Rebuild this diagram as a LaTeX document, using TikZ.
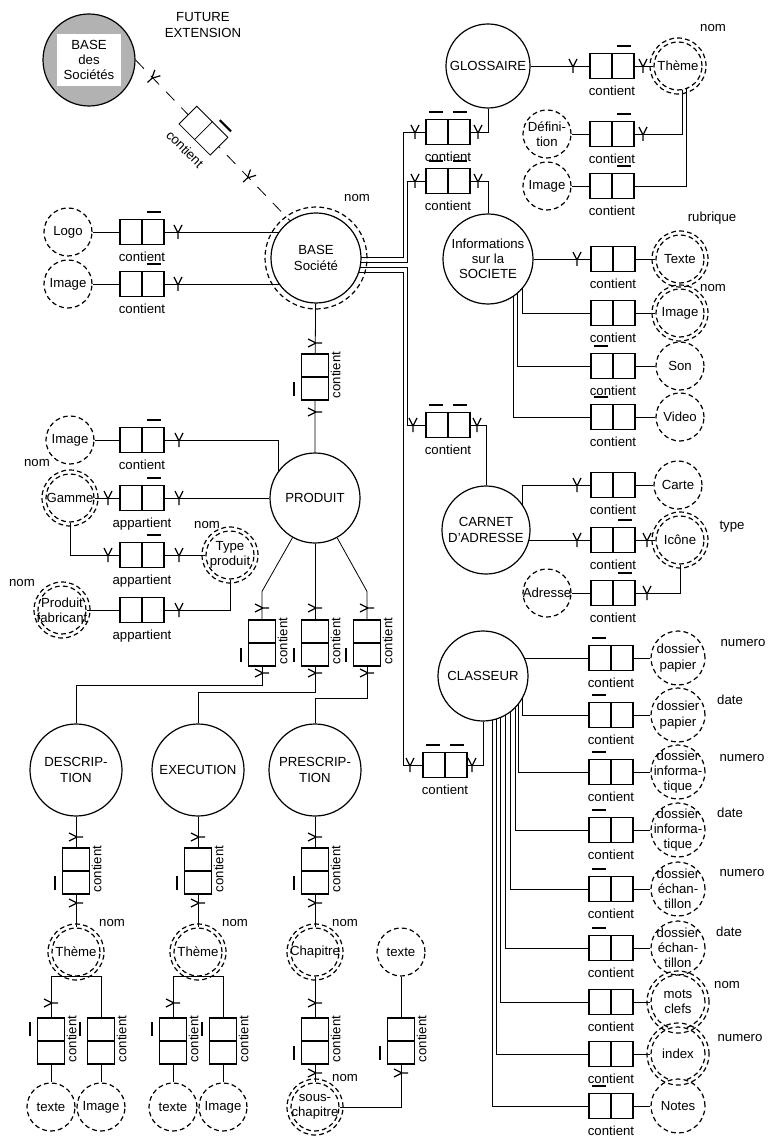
\documentclass[tikz,border=0pt]{standalone}
\usepackage{fontspec}
\setmainfont{Liberation Sans}
\pgfdeclarelayer{bg}
\pgfsetlayers{bg,main}

% bars above the relation boxes
\newcommand{\barR}[1]{\draw[cardbar] ([xshift=2.5pt,yshift=3.5pt]#1.north) -- ++(7pt,0pt);}
\newcommand{\barL}[1]{\draw[cardbar] ([xshift=-9.5pt,yshift=3.5pt]#1.north) -- ++(7pt,0pt);}
\newcommand{\barB}[1]{\barL{#1}\barR{#1}}
\newcommand{\barD}[1]{\draw[cardbar] ([xshift=-3.5pt,yshift=-2.5pt]#1.west) -- ++(0pt,-7pt);}
\newcommand{\barU}[1]{\draw[cardbar] ([xshift=-3.5pt,yshift=2.5pt]#1.west) -- ++(0pt,7pt);}

\begin{document}
\begin{tikzpicture}[
    x=0.5pt, y=-0.5pt,
    font=\fontsize{6.6}{7.6}\selectfont,
    line width=0.6pt,
    ent/.style = {circle, draw, fill=white, minimum size=45pt, inner sep=-6pt, align=center},
    att/.style = {circle, draw, dash pattern=on 2.4pt off 1.6pt, fill=white, minimum size=24pt, inner sep=-6pt, align=center},
    bigatt/.style = {att, minimum size=27pt},
    ring/.style = {dash pattern=on 2.4pt off 1.6pt},
    lbl/.style = {inner sep=0.5pt},
    rbox/.style = {rectangle, draw, fill=white, minimum width=22pt, minimum height=12.5pt, inner sep=0pt},
    relbox/.style = {rbox,
        path picture={\draw (path picture bounding box.north) -- (path picture bounding box.south);},
        label={[lbl, label distance=2.5pt]below:#1}},
    relbox/.default = contient,
    vrelbox/.style = {rectangle, draw, fill=white, minimum width=13.5pt, minimum height=23pt, inner sep=0pt,
        path picture={\draw (path picture bounding box.west) -- (path picture bounding box.east);},
        label={[lbl, rotate=90, anchor=north, label distance=1pt]east:contient}},
    cardbar/.style = {line width=1.1pt},
    fork/.pic = {\draw[solid, line width=0.6pt] (-4,-7) -- (0,1) -- (4,-7) (0,1) -- (0,7);},
]
\useasboundingbox (0,0) rectangle (768,1138);

% future extension
\node[ent, minimum size=46pt, fill=black!30,
    path picture={\fill[white] ([shift={(-16pt,-13pt)}]path picture bounding box.center) rectangle ++(32pt,26pt);}]
    (bds) at (89,60) {BASE\\des\\Sociétés};
\node[align=center] (fut) at (203,25) {FUTURE\\EXTENSION};

% base societe
\node[ent] (bs) at (316,258) {BASE\\Société};
\node[lbl] at (357,198) {nom};
\node[att] (logo) at (68,232) {Logo};
\node[att] (img1) at (68,284) {Image};
\node[relbox] (bx1) at (142,232) {};
\node[relbox] (bx2) at (142,284) {};

% glossaire
\node[ent, minimum size=42pt] (gl) at (488,66) {GLOSSAIRE};
\node[relbox] (bx3) at (612,66) {};
\node[att] (th1) at (678,66) {Thème};
\node[lbl] at (713,28) {nom};
\node[att] (def) at (547,134) {Défini-\\tion};
\node[relbox] (bx4) at (612,134) {};
\node[att] (img2) at (547,186) {Image};
\node[relbox] (bx5) at (612,186) {};
\node[relbox] (bx6) at (448,132) {};
\node[relbox] (bx7) at (448,181) {};

% informations
\node[ent] (inf) at (488,259) {Informations\\sur la\\SOCIETE};
\node[relbox] (bx8) at (613,259) {};
\node[att] (tx) at (680,259) {Texte};
\node[lbl] at (712,218) {rubrique};
\node[relbox] (bx9) at (613,313) {};
\node[att] (im3) at (680,313) {Image};
\node[lbl] at (713,288) {nom};
\node[relbox] (bx10) at (613,366) {};
\node[att] (son) at (680,366) {Son};
\node[relbox] (bx11) at (613,417) {};
\node[att] (vid) at (680,417) {Video};
\node[relbox] (bx12) at (448,425) {};

% carnet d'adresse
\node[ent, minimum size=44pt] (ca) at (486,530) {CARNET\\D'ADRESSE};
\node[relbox] (bx13) at (613,485) {};
\node[att] (car) at (678,485) {Carte};
\node[relbox] (bx14) at (613,540) {};
\node[att] (ico) at (680,540) {Icône};
\node[lbl] at (732,527) {type};
\node[att] (adr) at (547,593) {Adresse};
\node[relbox] (bx15) at (613,593) {};

% classeur
\node[ent] (cl) at (483,676) {CLASSEUR};
\node[relbox] (bx16) at (445,765) {};
\foreach \i/\y/\t in {1/658/{dossier\\papier}, 2/715/{dossier\\papier}, 3/772/{dossier\\informa-\\tique},
    4/830/{dossier\\informa-\\tique}, 5/889/{dossier\\échan-\\tillon}, 6/948/{dossier\\échan-\\tillon},
    7/1002/{mots\\clefs}, 8/1054/index, 9/1106/Notes} {
  \node[relbox] (c\i) at (611,\y) {};
  \node[bigatt] (d\i) at (678,\y) {\t};
}
\node[lbl] at (743,643) {numero};
\node[lbl] at (730,700) {date};
\node[lbl] at (742,758) {numero};
\node[lbl] at (730,813) {date};
\node[lbl] at (742,873) {numero};
\node[lbl] at (729,932) {date};
\node[lbl] at (727,985) {nom};
\node[lbl] at (740,1038) {numero};

% produit
\node[ent] (pr) at (315,498) {PRODUIT};
\node[att] (img4) at (70,440) {Image};
\node[relbox] (bx17) at (142,440) {};
\node[att] (gam) at (70,498) {Gamme};
\node[lbl] at (37,463) {nom};
\node[relbox=appartient] (bx18) at (142,498) {};
\node[att] (typ) at (230,555) {Type\\produit};
\node[lbl] at (207,525) {nom};
\node[relbox=appartient] (bx19) at (142,555) {};
\node[att] (fab) at (62,610) {Produit\\fabricant};
\node[lbl] at (22,583) {nom};
\node[relbox=appartient] (bx20) at (142,610) {};
\node[vrelbox] (vb1) at (315,377) {};
\node[vrelbox] (vb2) at (262,643) {};
\node[vrelbox] (vb3) at (315,643) {};
\node[vrelbox] (vb4) at (367,643) {};

% description, execution, prescription
\node[ent, minimum size=46pt] (de) at (76,770) {DESCRIP-\\TION};
\node[ent, minimum size=46pt] (ex) at (198,770) {EXECUTION};
\node[ent, minimum size=46pt] (ps) at (315,770) {PRESCRIP-\\TION};
\node[vrelbox] (vb5) at (76,871) {};
\node[vrelbox] (vb6) at (198,871) {};
\node[vrelbox] (vb7) at (315,871) {};
\node[att] (th2) at (76,952) {Thème};
\node[att] (th3) at (198,952) {Thème};
\node[att] (chap) at (315,952) {Chapitre};
\node[att] (txt3) at (401,952) {texte};
\node[lbl] at (112,923) {nom};
\node[lbl] at (235,923) {nom};
\node[lbl] at (345,923) {nom};
\node[vrelbox] (vb8) at (51,1041) {};
\node[vrelbox] (vb9) at (101,1041) {};
\node[vrelbox] (vb10) at (173,1041) {};
\node[vrelbox] (vb11) at (223,1041) {};
\node[vrelbox] (vb12) at (315,1041) {};
\node[vrelbox] (vb13) at (401,1041) {};
\node[att] (txa) at (51,1107) {texte};
\node[att] (ima) at (101,1107) {Image};
\node[att] (txb) at (173,1107) {texte};
\node[att] (imb) at (223,1107) {Image};
\node[att] (sch) at (315,1107) {sous-\\chapitre};
\node[lbl] at (345,1078) {nom};

% identifier rings
\draw[ring] (bs) circle (25.5pt);
\foreach \n in {th1,tx,im3,ico,gam,typ,fab,th2,th3,chap,sch} \draw[ring] (\n) circle (14pt);
\foreach \n in {d7,d8} \draw[ring] (\n) circle (15.5pt);

% cardinality bars
\barR{bx1} \barR{bx2} \barR{bx3} \barR{bx4} \barR{bx5}
\barB{bx6} \barB{bx7} \barL{bx10} \barL{bx11} \barB{bx12}
\barR{bx14} \barR{bx15} \barB{bx16}
\foreach \i in {1,...,6,9} {\barL{c\i}}
\barR{bx17} \barR{bx18} \barR{bx19}
\foreach \n in {vb1,vb2,vb3,vb4,vb5,vb6,vb7,vb12,vb13} {\barD{\n}}
\foreach \n in {vb8,vb9,vb10,vb11} {\barU{\n}}

% connectors
\coordinate (s1) at ([yshift=0.5pt]bs.center);
\coordinate (s2) at ([yshift=-2pt]bs.center);
\coordinate (s3) at ([yshift=-4.5pt]bs.center);
\coordinate (s4) at ([yshift=-7pt]bs.center);
\coordinate (ta) at (403,0);
\coordinate (tb) at (407,0);
\begin{pgfonlayer}{bg}
  \draw[dash pattern=on 6pt off 5pt] (bds.east) -- pic[pos=0.11, sloped]{fork} coordinate[pos=0.44] (m0)
      pic[pos=0.73, sloped]{fork} (bs.125);
  \draw (logo) -- (bs.center |- logo);
  \draw (img1) -- (bs.center |- img1);
  \draw (gl) -- (th1);
  \draw ([xshift=2pt]th1.center) |- (def);
  \draw ([xshift=4pt]th1.center) |- (img2);
  \draw (gl) |- (bx6) -| (ta |- s1) -- (s1);
  \draw (inf) |- (bx7) -| (tb |- s2) -- (s2);
  \draw (ca) |- (bx12) -| (tb |- s3) -- (s3);
  \draw (cl) |- (bx16) -| (ta |- s4) -- (s4);
  \draw (inf) -- (tx);
  \draw ([xshift=17pt]inf.center) |- (im3);
  \draw ([xshift=14.5pt]inf.center) |- (son);
  \draw ([xshift=12.5pt]inf.center) |- (vid);
  \draw ([xshift=18pt]ca.center) |- (car);
  \draw (ca.center |- ico) -- (ico);
  \draw (adr) -- (bx15) -| (ico);
  \draw (cl.center |- d1) -- (d1);
  \foreach \i/\s in {2/19.5, 3/17.5, 4/16, 5/13.5, 6/11, 7/8.5, 8/6.5, 9/4.5}
    \draw ([xshift=\s pt]cl.center) |- (d\i);
  \draw (img4) -- (bx17) -| ([xshift=-18.5pt]pr.center);
  \draw (gam) -- (pr);
  \draw (gam) |- (bx19) -- (typ);
  \draw (fab) -| (typ);
  \draw (bs) -- (vb1) -- (pr);
  \draw (pr) -- ([yshift=14pt]vb2.north) -- (vb2);
  \draw (pr) -- (vb3);
  \draw (pr) -- ([yshift=14pt]vb4.north) -- (vb4);
  \draw (vb2.south) -- ++(0,19) -| (de);
  \draw (vb3.south) -- ++(0,26) -| (ex);
  \draw (vb4.south) -- ++(0,32) -| (ps);
  \draw (de) -- (vb5) -- (th2);
  \draw (ex) -- (vb6) -- (th3);
  \draw (ps) -- (vb7) -- (chap) -- (vb12) -- (sch);
  \draw (th2.south) -| (vb8) -- (txa);
  \draw (th2.south) -| (vb9) -- (ima);
  \draw (th3.south) -| (vb10) -- (txb);
  \draw (th3.south) -| (vb11) -- (imb);
  \draw (txt3) -- (vb13) |- (sch);
\end{pgfonlayer}

% relation on the future extension
\begin{scope}[shift={(m0)}, rotate=-45, transform shape]
  \node[rbox] (bx0) at (0,0) {};
  \draw (bx0.north) -- (bx0.south);
  \draw[cardbar] (4,-19) -- (20,-19);
  \node[lbl] at (0,26) {contient};
\end{scope}

% forks
\foreach \p in {(178,232), (178,284), (573,66), (643,66), (643,134), (415,132), (478,132),
    (415,181), (478,181), (577,259), (413,425), (477,425), (577,485), (577,540), (647,540),
    (647,593), (410,765), (472,765), (179,440), (108,498), (179,498), (108,555), (179,555), (179,610)}
  \pic at \p {fork};
\foreach \p in {(315,343), (315,412), (262,608), (315,608), (367,608), (262,673), (315,673),
    (367,673), (76,837), (198,837), (315,837), (76,903), (198,903), (315,903), (51,1003),
    (173,1003), (315,1003), (315,1073), (401,1073)}
  \pic[rotate=90] at \p {fork};
\end{tikzpicture}
\end{document}
